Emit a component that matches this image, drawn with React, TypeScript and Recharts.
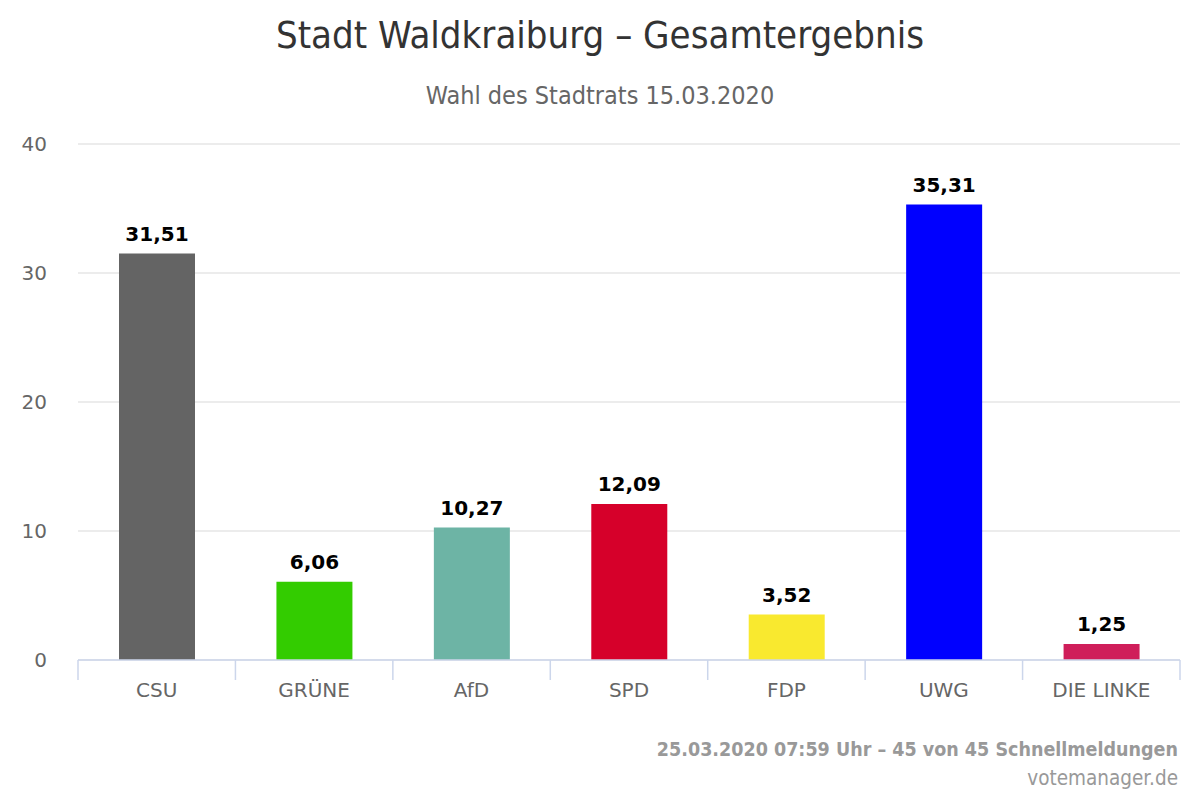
import React from "react";
import { BarChart, Bar, XAxis, YAxis, CartesianGrid, Cell, LabelList } from "recharts";

const categories = ["CSU", "GRÜNE", "AfD", "SPD", "FDP", "UWG", "DIE LINKE"];
const values = [31.51, 6.06, 10.27, 12.09, 3.52, 35.31, 1.25];
const colors = ["#646464", "#33cc00", "#6db4a5", "#d6002a", "#f9e92f", "#0000ff", "#cf1e5a"];
const yTicks = [0, 10, 20, 30, 40];

const data = categories.map((name, i) => ({ name, value: values[i] }));

const FONT = "'DejaVu Sans', sans-serif";
const COND = "'DejaVu Sans Condensed', 'DejaVu Sans', sans-serif";

const XTick = (props: any) => {
  const { x, y, payload, index } = props;
  const off = payload.offset ?? 0;
  return (
    <g>
      <line x1={x - off} x2={x - off} y1={y} y2={y + 20} stroke="#ccd6eb" strokeWidth={1.5} />
      {index === categories.length - 1 && (
        <line x1={x + off} x2={x + off} y1={y} y2={y + 20} stroke="#ccd6eb" strokeWidth={1.5} />
      )}
      <text x={x} y={y + 37} textAnchor="middle" fontSize={20} fill="#666666" fontFamily={FONT}>
        {payload.value}
      </text>
    </g>
  );
};

export default function App() {
  return (
    <div style={{ position: "absolute", left: 0, top: 0, width: 1200, height: 800, background: "#fff" }}>
      <svg width={1200} height={800} style={{ position: "absolute", left: 0, top: 0 }}>
        <text x={600} y={48} textAnchor="middle" fontSize={38} fill="#333333" fontFamily={COND}>
          Stadt Waldkraiburg – Gesamtergebnis
        </text>
        <text x={600} y={104} textAnchor="middle" fontSize={25} fill="#666666" fontFamily={COND}>
          Wahl des Stadtrats 15.03.2020
        </text>
        <text x={1178} y={756} textAnchor="end" fontSize={19.5} fontWeight="bold" fill="#999999" fontFamily={COND}>
          25.03.2020 07:59 Uhr – 45 von 45 Schnellmeldungen
        </text>
        <text x={1178} y={785} textAnchor="end" fontSize={20.5} fill="#999999" fontFamily={COND}>
          votemanager.de
        </text>
      </svg>
      <div style={{ position: "absolute", left: 0, top: 0 }}>
        <BarChart width={1200} height={800} data={data} margin={{ top: 144, right: 20, bottom: 110, left: 0 }} barCategoryGap="25%">
          <CartesianGrid vertical={false} stroke="#e6e6e6" strokeWidth={1.5} />
          <XAxis
            dataKey="name"
            height={30}
            tickLine={false}
            tickSize={0}
            tickMargin={0}
            axisLine={{ stroke: "#ccd6eb", strokeWidth: 1.5 }}
            tick={<XTick />}
            interval={0}
          />
          <YAxis
            width={78}
            domain={[0, 40]}
            ticks={yTicks}
            axisLine={false}
            tickLine={false}
            tickSize={0}
            tickMargin={31}
            tick={{ fontSize: 20, fill: "#666666", fontFamily: FONT }}
          />
          <Bar dataKey="value" isAnimationActive={false} barSize={76}>
            {data.map((d, i) => (
              <Cell key={d.name} fill={colors[i]} />
            ))}
            <LabelList
              dataKey="value"
              position="top"
              offset={13}
              formatter={(v: any) => Number(v).toFixed(2).replace(".", ",")}
              style={{ fontSize: 20, fontWeight: "bold", fill: "#000000", fontFamily: FONT, stroke: "#ffffff", strokeWidth: 3, paintOrder: "stroke" }}
            />
          </Bar>
        </BarChart>
      </div>
    </div>
  );
}
